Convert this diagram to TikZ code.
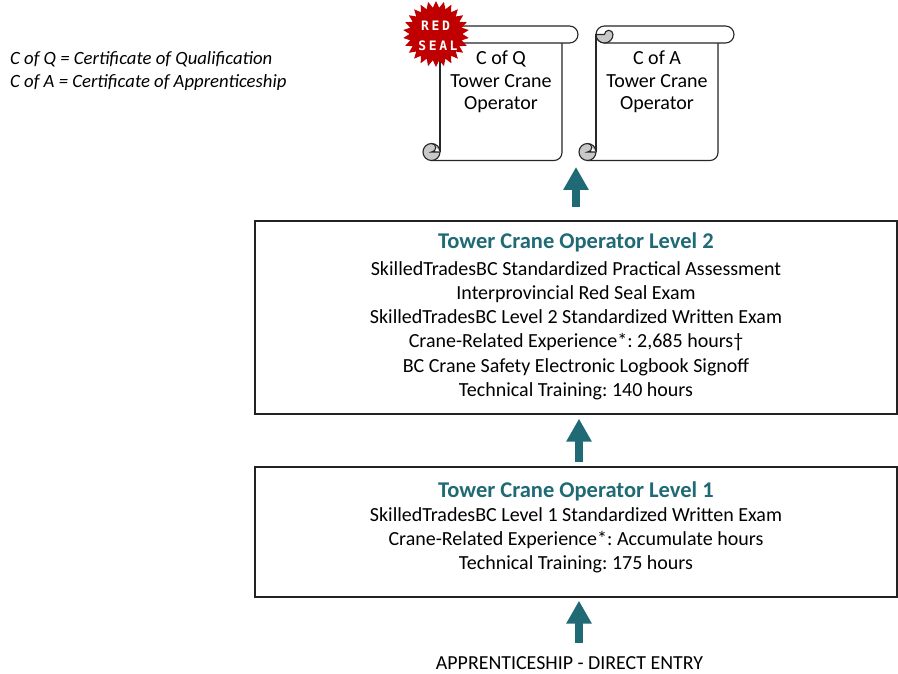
\documentclass[tikz,border=0pt]{standalone}
\usepackage{fontspec}
\setmainfont{Carlito}
\newfontfamily\sealfont[LetterSpace=20]{DejaVu Sans Mono}
\usetikzlibrary{arrows.meta,shapes.geometric,calc}
\definecolor{tealc}{HTML}{1F6A75}
\definecolor{sealred}{HTML}{C00000}
\definecolor{curlgray}{HTML}{C8C8C8}
\definecolor{boxline}{HTML}{222222}
\newcommand\certscroll[1]{%
\begin{scope}[shift={(#1,0)}, line width=1.1pt, draw=black!85]
\fill[white] (0,34.5) rectangle (122,160.5);
\draw[rounded corners=8pt] (-8.5,160.5) -- (122,160.5) -- (122,43);
\draw (0,34.5) -- (0,152);
\draw[fill=white, rounded corners=8.5pt] (0,26) rectangle (138,43);
\draw[fill=curlgray] (0,34.5) arc[start angle=180,end angle=0,radius=8.5] arc[start angle=0,end angle=-180,radius=4.25] -- cycle;
\draw[fill=curlgray] (-8.5,152) circle (8.5);
\draw[fill=white] (-8.5,143.5) arc[start angle=-90,end angle=90,radius=4.25] -- (0,152);
\end{scope}}
\tikzset{
  lvlbox/.style={draw=boxline, line width=1.3pt, fill=white, minimum width=642pt, inner sep=0pt},
  lvltitle/.style={text=tealc, font=\bfseries\fontsize{22.5}{26}\selectfont},
  lvlbody/.style={align=center, font=\fontsize{20}{24.2}\selectfont},
  scrolltext/.style={align=center, font=\fontsize{20}{22.5}\selectfont},
  blockarrow/.style={draw=tealc, line width=8pt, -{Triangle[width=24pt,length=23pt]}},
  sealtext/.style={text=white, font=\sealfont\bfseries\fontsize{13}{13}\selectfont, inner sep=0pt}
}
\begin{document}
\frenchspacing
\begin{tikzpicture}[x=1pt,y=-1pt]
\useasboundingbox[fill=white] (0,0) rectangle (898,674);

% legend
\node[anchor=west, align=left, inner sep=0pt, font=\itshape\fontsize{18.7}{23}\selectfont] (legend) at (10,71.5)
  {C of Q = Certificate of Qualification\\C of A = Certificate of Apprenticeship};

% certificates
\certscroll{440}
\certscroll{596}
\node[scrolltext] (cq) at (501,82) {C of Q\\Tower Crane\\Operator};
\node[scrolltext] (ca) at (657,82) {C of A\\Tower Crane\\Operator};
\node[star, star points=26, star point ratio=1.25, fill=sealred, minimum size=66pt, inner sep=0pt] (seal) at (436,34) {};
\node[sealtext] (sealred) at (435.5,26) {RED};
\node[sealtext] (sealseal) at (438,46) {SEAL};
\coordinate (certs) at (576,167);

% level 2
\node[lvlbox, minimum height=193pt] (l2box) at (576,317.5) {};
\node[lvltitle] (l2title) at (576,242) {Tower Crane Operator Level 2};
\node[lvlbody] (l2body) at (576,330.5) {SkilledTradesBC Standardized Practical Assessment\\
Interprovincial Red Seal Exam\\
SkilledTradesBC Level 2 Standardized Written Exam\\
Crane-Related Experience*: 2,685 hours†\\
BC Crane Safety Electronic Logbook Signoff\\
Technical Training: 140 hours};

% level 1
\node[lvlbox, minimum height=130pt] (l1box) at (576,532) {};
\node[lvltitle] (l1title) at (576,491) {Tower Crane Operator Level 1};
\node[lvlbody] (l1body) at (576,540) {SkilledTradesBC Level 1 Standardized Written Exam\\
Crane-Related Experience*: Accumulate hours\\
Technical Training: 175 hours};

% entry
\node[font=\fontsize{19.9}{22}\selectfont] (entry) at (569.5,663) {APPRENTICESHIP - DIRECT ENTRY};
\coordinate (entrytop) at (579,643);

% arrows
\draw[blockarrow] (entrytop) -- ($(l1box.south)+(3,3)$);
\draw[blockarrow] ($(l1box.north)+(3,-4)$) -- ($(l2box.south)+(3,4)$);
\draw[blockarrow] ($(l2box.north)+(0,-13)$) -- (certs);
\end{tikzpicture}
\end{document}
